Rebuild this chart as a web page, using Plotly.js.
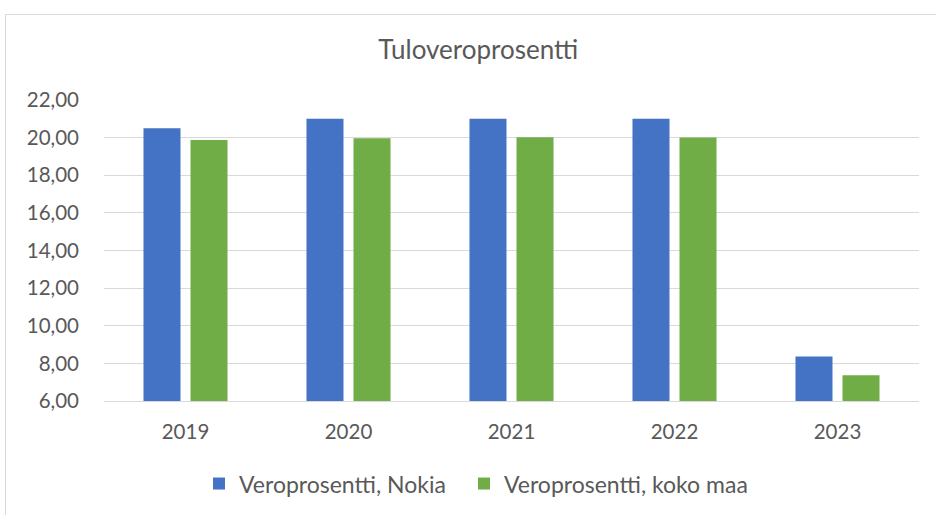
<!DOCTYPE html>
<html>
<head>
<meta charset="utf-8">
<script src="https://cdn.plot.ly/plotly-3.0.1.min.js"></script>
<style>
  html, body { margin: 0; padding: 0; background: #ffffff; }
  #wrap { position: relative; width: 936px; height: 515px; overflow: hidden; }
  #chart { position: absolute; left: 0; top: 0; width: 936px; height: 515px; }
  #frame { position: absolute; left: 5px; top: 14px; width: 960px; height: 540px;
           border: 1px solid #d9d9d9; pointer-events: none; box-sizing: border-box; }
</style>
</head>
<body>
<div id="wrap">
  <div id="chart"></div>
  <div id="frame"></div>
</div>
<script>
const years = ['2019', '2020', '2021', '2022', '2023'];
const nokia = [20.50, 21.00, 21.00, 21.00, 8.36];
const kokoMaa = [19.88, 19.97, 20.02, 20.01, 7.37];
const seriesNames = ['Veroprosentti, Nokia', 'Veroprosentti, koko maa'];
const titleText = 'Tuloveroprosentti';
const yTicks = [6, 8, 10, 12, 14, 16, 18, 20, 22];

const fontFam = 'Lato, "Open Sans", sans-serif';
const legFont = { family: fontFam, size: 23, color: '#595959' };

const traces = [
  { type: 'bar', name: seriesNames[0], x: years, y: nokia, legend: 'legend',
    marker: { color: '#4472C4' }, hoverinfo: 'y' },
  { type: 'bar', name: seriesNames[1], x: years, y: kokoMaa, legend: 'legend2',
    marker: { color: '#70AD47' }, hoverinfo: 'y' }
];

const layout = {
  width: 936, height: 515,
  paper_bgcolor: 'rgba(0,0,0,0)', plot_bgcolor: '#ffffff',
  separators: ',.',
  font: { family: fontFam, color: '#595959', size: 20 },
  margin: { l: 104, r: 17, t: 100, b: 114, pad: 0, autoexpand: false },
  title: { text: titleText, x: 0.511, xanchor: 'center', xref: 'container',
           y: 50, yref: 'container', yanchor: 'middle', automargin: false,
           font: { family: fontFam, size: 26, color: '#595959' } },
  barmode: 'group', bargap: 0.423, bargroupgap: 0.213,
  showlegend: true,
  legend: { orientation: 'h', xref: 'container', x: 0.2126, xanchor: 'left',
            yref: 'container', y: 0.061, yanchor: 'middle',
            font: legFont, itemwidth: 30 },
  legend2: { orientation: 'h', xref: 'container', x: 0.4957, xanchor: 'left',
             yref: 'container', y: 0.061, yanchor: 'middle',
             font: legFont, itemwidth: 30 },
  xaxis: { type: 'category', showgrid: false, zeroline: false,
           showline: true, linecolor: '#d9d9d9', linewidth: 1,
           ticks: '', ticklabelstandoff: 12, automargin: false,
           tickfont: { family: fontFam, size: 20.5, color: '#595959' } },
  yaxis: { range: [6, 22], tickvals: yTicks, tickformat: '.2f',
           showgrid: true, gridcolor: '#d9d9d9', gridwidth: 1, automargin: false,
           zeroline: false, showline: false, ticks: '', ticklabelstandoff: 24,
           tickfont: { family: fontFam, size: 20.5, color: '#595959' } }
};

Plotly.newPlot('chart', traces, layout, { displayModeBar: false, staticPlot: true });
</script>
</body>
</html>
